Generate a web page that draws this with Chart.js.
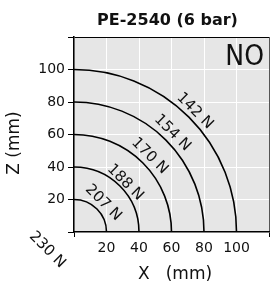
<!DOCTYPE html>
<html>
<head>
<meta charset="utf-8">
<script src="https://cdn.jsdelivr.net/npm/chart.js@4/dist/chart.umd.min.js"></script>
<style>
  html, body { margin: 0; padding: 0; background: #fff; }
  #wrap { width: 272px; height: 286px; }
</style>
</head>
<body>
<div id="wrap"><canvas id="chart" width="272" height="286"></canvas></div>
<script>
// curve radii (mm) and the force on each one
const radii = [0, 20, 40, 60, 80, 100]
const forces = [230, 207, 188, 170, 154, 142]
// where the force labels sit (data coords)
const labelX = [-16.5, 18, 31.5, 46.5, 60.5, 74.4]
const labelY = [-11, 18, 30.5, 46.8, 61, 74.5]
const tickLabels = [20, 40, 60, 80, 100]

const FONT = '"DejaVu Sans", sans-serif'

const bgPlugin = {
    id: 'bg',
    beforeDraw(chart) {
        const { ctx, chartArea: a } = chart
        ctx.save()
        ctx.fillStyle = '#e6e6e6'
        ctx.fillRect(a.left, a.top, a.right - a.left, a.bottom - a.top)
        ctx.restore()
    }
}

const arcPlugin = {
    id: 'arcs',
    afterDatasetsDraw(chart) {
        const { ctx } = chart
        const x = chart.scales.x, y = chart.scales.y
        const ox = x.getPixelForValue(0), oy = y.getPixelForValue(0)
        ctx.save()
        ctx.strokeStyle = '#000'
        ctx.lineWidth = 1.6
        radii.forEach(r => {
            if (!r) return
            const rx = x.getPixelForValue(r) - ox
            const ry = oy - y.getPixelForValue(r)
            ctx.beginPath()
            ctx.ellipse(ox, oy, rx, ry, 0, -Math.PI / 2, 0)
            ctx.stroke()
        })
        // force labels, turned along the curves
        ctx.fillStyle = '#111'
        ctx.font = '15px ' + FONT
        ctx.textAlign = 'center'
        ctx.textBaseline = 'middle'
        forces.forEach((f, i) => {
            ctx.save()
            ctx.translate(x.getPixelForValue(labelX[i]), y.getPixelForValue(labelY[i]))
            ctx.rotate(Math.PI / 4)
            ctx.fillText(f + ' N', 0, 0)
            ctx.restore()
        })
        ctx.restore()
    },
    afterDraw(chart) {
        const { ctx, chartArea: a } = chart
        ctx.save()
        ctx.fillStyle = '#111'
        ctx.textAlign = 'center'
        ctx.textBaseline = 'alphabetic'
        ctx.font = 'bold 16px ' + FONT
        ctx.fillText('PE-2540 (6 bar)', (a.left + a.right) / 2 - 4, 25)
        ctx.font = '17px ' + FONT
        ctx.fillText('X   (mm)', 175, 279)
        ctx.save()
        ctx.translate(19, 143)
        ctx.rotate(-Math.PI / 2)
        ctx.fillText('Z (mm)', 0, 0)
        ctx.restore()
        ctx.textAlign = 'right'
        ctx.font = '28px "Liberation Sans Narrow", "DejaVu Sans Condensed", sans-serif'
        ctx.fillText('NO', 264, 65)
        ctx.restore()
    }
}

const edge = v => v === 0 || v === 120

new Chart(document.getElementById('chart'), {
    type: 'scatter',
    data: {
        datasets: [{
            data: labelX.map((v, i) => ({ x: v, y: labelY[i] })),
            pointRadius: 0,
        }]
    },
    options: {
        responsive: false,
        animation: false,
        layout: { padding: { top: 37, right: 2, left: 0, bottom: 0 } },
        plugins: { legend: { display: false }, tooltip: { enabled: false } },
        scales: {
            x: {
                min: 0, max: 120,
                afterFit: s => { s.height = 54 },
                border: { color: '#000', width: 1.6 },
                grid: {
                    color: c => c.tick && c.tick.value === 120 ? '#555' : '#fff',
                    tickColor: c => c.tick && edge(c.tick.value) ? '#000' : 'rgba(0,0,0,0)',
                    tickLength: 5,
                    lineWidth: 1,
                },
                ticks: {
                    stepSize: 20,
                    maxRotation: 0,
                    padding: 3,
                    color: '#111',
                    font: { family: FONT, size: 14 },
                    callback: v => tickLabels.includes(v) ? String(v) : '',
                },
            },
            y: {
                min: 0, max: 120,
                afterFit: s => { s.width = 74 },
                border: { color: '#000', width: 1.6 },
                grid: {
                    color: c => c.tick && c.tick.value === 120 ? '#000' : '#fff',
                    tickColor: '#000',
                    tickLength: 6,
                    lineWidth: 1,
                },
                ticks: {
                    stepSize: 20,
                    padding: 3,
                    color: '#111',
                    font: { family: FONT, size: 14 },
                    callback: v => tickLabels.includes(v) ? String(v) : '',
                },
            },
        },
    },
    plugins: [bgPlugin, arcPlugin],
})
</script>
</body>
</html>
